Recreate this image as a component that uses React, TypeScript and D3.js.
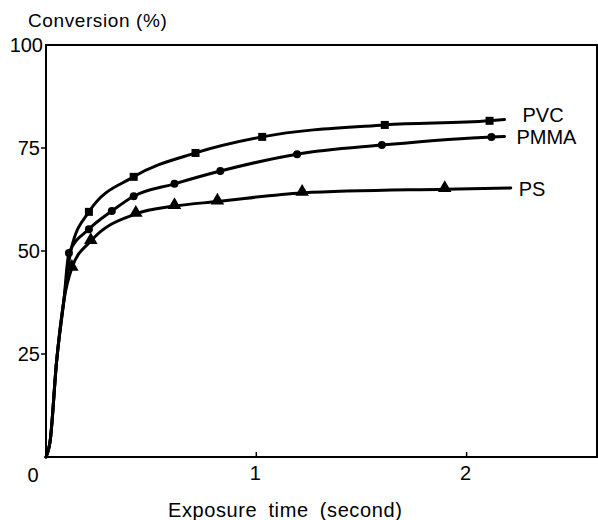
import React from "react";
import * as d3 from "d3";

// ---- Data ----
const seriesNames = ["PVC", "PMMA", "PS"];

// shared initial rise (exposure time s, conversion %)
const riseX = [0, 0.02, 0.05, 0.085];
const riseY = [0, 4, 23, 38];

// PVC (squares)
const pvcX = [0.204, 0.417, 0.711, 1.028, 1.611, 2.109];
const pvcY = [59.5, 68.0, 73.8, 77.7, 80.6, 81.6];
const pvcCurveX = [0.12, 2.18];
const pvcCurveY = [50.5, 81.9];

// PMMA (circles)
const pmmaX = [0.109, 0.204, 0.313, 0.417, 0.611, 0.829, 1.194, 1.597, 2.118];
const pmmaY = [49.5, 55.3, 59.7, 63.3, 66.3, 69.4, 73.5, 75.7, 77.7];
const pmmaCurveX = [2.18];
const pmmaCurveY = [77.8];

// PS (triangles)
const psX = [0.123, 0.213, 0.427, 0.611, 0.815, 1.218, 1.896];
const psY = [45.9, 52.4, 59.0, 60.9, 62.0, 64.1, 65.0];
const psCurveX = [2.21];
const psCurveY = [65.3];

const yTicks = [25, 50, 75, 100];
const xTicks = [1, 2];
const xTitle = "Exposure time (second)";
const yTitle = "Conversion (%)";

const W = 598;
const H = 520;
const FONT = "'Liberation Sans', Arial, Helvetica, sans-serif";

type P = [number, number];
const zip = (xs: number[], ys: number[]): P[] => xs.map((x, i) => [x, ys[i]]);

export default function App() {
  const x = d3.scaleLinear().domain([0, 2.62]).range([46, 597]);
  const y = d3.scaleLinear().domain([0, 100]).range([457, 45]);

  const line = d3
    .line<P>()
    .x((d) => x(d[0]))
    .y((d) => y(d[1]))
    .curve(d3.curveMonotoneX);

  const sortPts = (pts: P[]) => pts.slice().sort((a, b) => a[0] - b[0]);
  const rise = zip(riseX, riseY);
  const pvcPts = sortPts([...rise, ...zip(pvcX, pvcY), ...zip(pvcCurveX, pvcCurveY)]);
  const pmmaPts = sortPts([...rise, ...zip(pmmaX, pmmaY), ...zip(pmmaCurveX, pmmaCurveY)]);
  const psPts = sortPts([...rise, ...zip(psX, psY), ...zip(psCurveX, psCurveY)]);

  const tri = d3.symbol().type(d3.symbolTriangle).size(80)();

  const labelPos: P[] = [
    [pvcCurveX[1], pvcCurveY[1]],
    [pmmaCurveX[0], pmmaCurveY[0]],
    [psCurveX[0], psCurveY[0]],
  ];

  return (
    <svg
      width={W}
      height={H}
      style={{ position: "absolute", left: 0, top: 0, background: "#fff" }}
      fontFamily={FONT}
    >
      <rect x={0} y={0} width={W} height={H} fill="#fff" />
      {/* frame */}
      <rect
        x={x(0)}
        y={y(100)}
        width={x(2.62) - x(0)}
        height={y(0) - y(100)}
        fill="none"
        stroke="#000"
        strokeWidth={2}
      />
      {/* y ticks */}
      {yTicks.map((t) => (
        <g key={t}>
          {t !== 100 && (
            <line x1={x(0) - 5} x2={x(0)} y1={y(t)} y2={y(t)} stroke="#000" strokeWidth={1.5} />
          )}
          <text x={x(0) - (t === 100 ? 3 : 6)} y={y(t) + 7} textAnchor="end" fontSize={20}>
            {t}
          </text>
        </g>
      ))}
      <text x={33} y={482} textAnchor="middle" fontSize={20}>
        0
      </text>
      {/* x ticks */}
      {xTicks.map((t) => (
        <g key={t}>
          <line x1={x(t)} x2={x(t)} y1={y(0)} y2={y(0) - 5} stroke="#000" strokeWidth={1.5} />
          <text x={x(t) - 1} y={480} textAnchor="middle" fontSize={20}>
            {t}
          </text>
        </g>
      ))}
      {/* titles */}
      <text x={28} y={27} fontSize={19} letterSpacing={0.6}>
        {yTitle}
      </text>
      <text x={168} y={517} fontSize={20} letterSpacing={0.6} wordSpacing={5}>
        {xTitle}
      </text>

      {/* curves */}
      {[pvcPts, pmmaPts, psPts].map((pts, i) => (
        <path key={i} d={line(pts) || ""} fill="none" stroke="#000" strokeWidth={3} strokeLinejoin="round" strokeLinecap="round" />
      ))}

      {/* markers */}
      {zip(pvcX, pvcY).map((d, i) => (
        <rect key={"s" + i} x={x(d[0]) - 4} y={y(d[1]) - 4} width={8} height={8} fill="#000" />
      ))}
      {zip(pmmaX, pmmaY).map((d, i) => (
        <circle key={"c" + i} cx={x(d[0])} cy={y(d[1])} r={4} fill="#000" />
      ))}
      {zip(psX, psY).map((d, i) => (
        <path key={"t" + i} d={tri || ""} transform={`translate(${x(d[0])},${y(d[1]) - 1})`} fill="#000" />
      ))}

      {/* series labels */}
      {seriesNames.map((n, i) => (
        <text
          key={n}
          x={x(labelPos[i][0]) + (i === 0 ? 18 : i === 1 ? 12 : 8)}
          y={y(labelPos[i][1]) + (i === 0 ? -5 : 1) + 7}
          fontSize={20}
        >
          {n}
        </text>
      ))}
    </svg>
  );
}
